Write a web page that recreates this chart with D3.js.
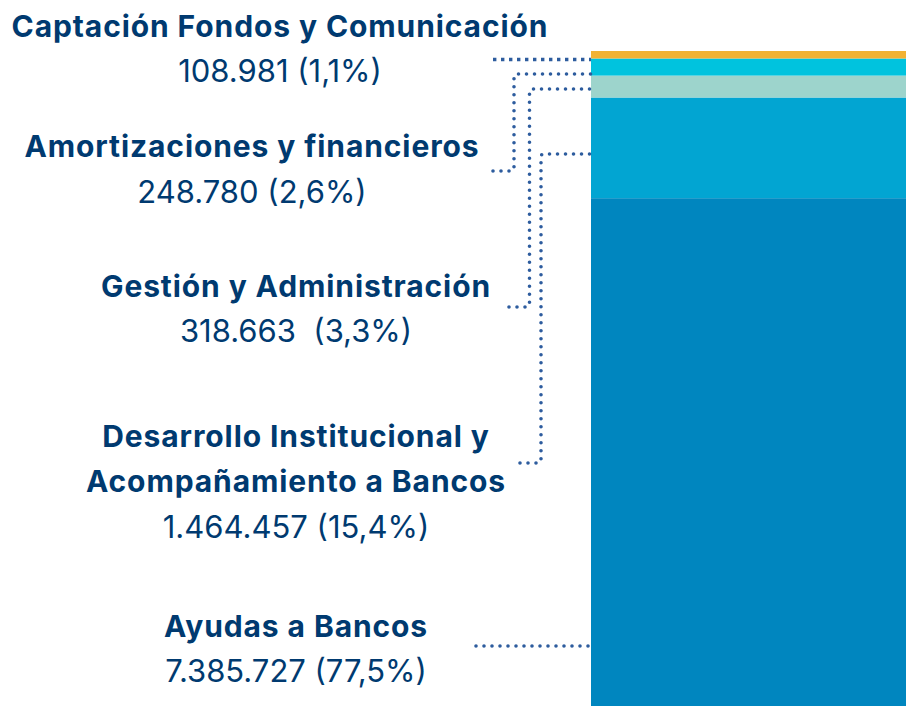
<!DOCTYPE html>
<html>
<head>
<meta charset="utf-8">
<script src="https://cdn.jsdelivr.net/npm/d3@7/dist/d3.min.js"></script>
<style>
  html, body { margin: 0; padding: 0; background: #fff; }
  svg { display: block; }
  text { font-family: Inter, "Noto Sans", sans-serif; white-space: pre; }
</style>
</head>
<body>
<svg id="chart" width="906" height="706"></svg>
<script>
// ---- data ----
const categories = [
  "Ayudas a Bancos",
  "Desarrollo Institucional y Acompañamiento a Bancos",
  "Gestión y Administración",
  "Amortizaciones y financieros",
  "Captación Fondos y Comunicación"
];
const titleLines = [
  ["Ayudas a Bancos"],
  ["Desarrollo Institucional y", "Acompañamiento a Bancos"],
  ["Gestión y Administración"],
  ["Amortizaciones y financieros"],
  ["Captación Fondos y Comunicación"]
];
const values = [7385727, 1464457, 318663, 248780, 108981];
const valueLabels = [
  "7.385.727 (77,5%)",
  "1.464.457 (15,4%)",
  "318.663  (3,3%)",
  "248.780 (2,6%)",
  "108.981 (1,1%)"
];
const colors = ["#0086bf", "#02a5d2", "#9dd4cc", "#00c3de", "#f2b233"];

// ---- layout (annotation positions) ----
const labelCenterX = [296, 296, 296, 252, 280];
const firstBaseline = [636.7, 446.7, 296.7, 157.3, 36.7];
const lineGap = 45.5;
// leader lines: [startX, startY, elbowX (null = straight), targetY]
const leaders = [
  [476, 646, null, 646],
  [520, 463, 541, 154],
  [509, 307, 529.5, 89],
  [493, 171, 514, 74],
  [493, 59.5, null, 59.5]
];

const svg = d3.select("#chart");
const W = 906, H = 706;
const total = d3.sum(values);

const y = d3.scaleLinear().domain([0, total]).range([H, 51]);
const x = d3.scaleLinear().domain([0, 1]).range([591, 906]);

// stacked data
let acc = 0;
const stacked = values.map((v, i) => {
  const d = { i, y0: acc, y1: acc + v };
  acc += v;
  return d;
});

svg.append("g").selectAll("rect")
  .data(stacked)
  .join("rect")
  .attr("x", x(0))
  .attr("width", x(1) - x(0))
  .attr("y", d => y(d.y1))
  .attr("height", d => y(d.y0) - y(d.y1))
  .attr("fill", d => colors[d.i]);

// leader lines
const dotColor = "#2d5c9e";
const lg = svg.append("g");
leaders.forEach((l, i) => {
  const [sx, sy, ex, ty] = l;
  let p;
  if (ex === null) {
    p = `M${sx},${sy}H${x(0)}`;
  } else {
    const r = 3;
    p = `M${sx},${sy}H${ex - r}Q${ex},${sy} ${ex},${sy - r}V${ty + r}Q${ex},${ty} ${ex + r},${ty}H${x(0)}`;
  }
  lg.append("path")
    .attr("d", p)
    .attr("fill", "none")
    .attr("stroke", dotColor)
    .attr("stroke-width", i === 4 ? 3.4 : 3.6)
    .attr("stroke-linecap", i === 4 ? "butt" : "round")
    .attr("stroke-dasharray", i === 4 ? "3.4 4.6" : "0 8");
});

// labels
const textColor = "#003a70";
const tg = svg.append("g");
categories.forEach((c, i) => {
  const lines = titleLines[i];
  lines.forEach((ln, k) => {
    tg.append("text")
      .attr("x", labelCenterX[i])
      .attr("y", firstBaseline[i] + k * lineGap)
      .attr("text-anchor", "middle")
      .attr("font-size", 30)
      .attr("font-weight", 700)
      .attr("letter-spacing", 0.9)
      .attr("fill", textColor)
      .text(ln);
  });
  tg.append("text")
    .attr("x", labelCenterX[i])
    .attr("y", firstBaseline[i] + lines.length * lineGap)
    .attr("text-anchor", "middle")
    .attr("font-size", 31)
    .attr("font-weight", 400)
    .attr("fill", textColor)
    .text(valueLabels[i]);
});
</script>
</body>
</html>
